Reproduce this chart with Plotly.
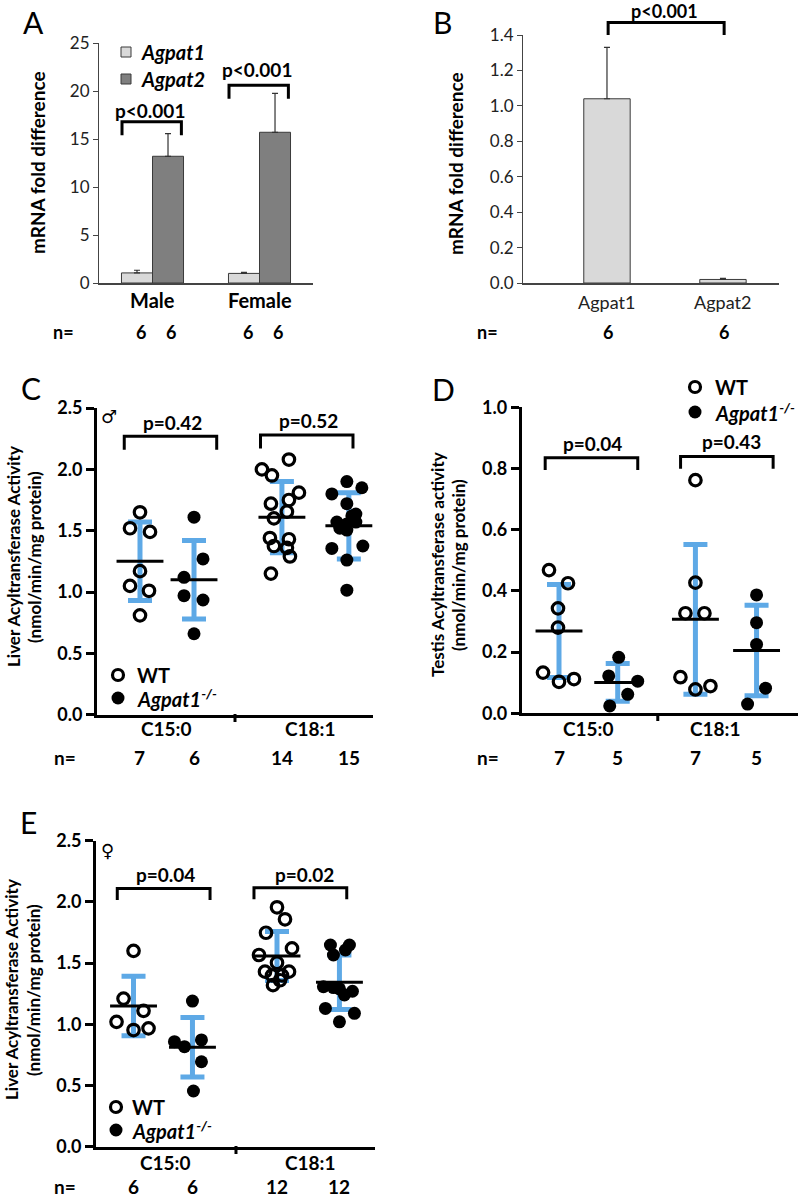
import plotly.graph_objects as go

W, H = 800, 1197
FONT = "Lato"
BLUE = "#5EA9E6"

# ---------------- Panel A data ----------------
a_sex = ["Male", "Female"]
a_agpat1 = [1.05, 1.0]
a_agpat1_err = [0.28, 0.1]
a_agpat2 = [13.2, 15.7]
a_agpat2_err = [2.35, 4.05]
a_n = [[6, 6], [6, 6]]
a_p = ["p<0.001", "p<0.001"]
a_bracket_top = [16.8, 20.6]
a_p_y = [18.0, 22.2]

# ---------------- Panel B data ----------------
b_genes = ["Agpat1", "Agpat2"]
b_values = [1.04, 0.02]
b_err = [0.29, 0.006]
b_n = [6, 6]
b_p = "p<0.001"
b_bracket_top = 1.47
b_p_y = 1.535

# ---------------- Panel C data (male liver) ----------------
c_wt15 = [1.65, 1.52, 1.49, 1.17, 1.05, 1.01, 0.81]
c_ko15 = [1.61, 1.27, 1.12, 0.97, 0.935, 0.66]
c_wt18 = [2.08, 2.0, 1.95, 1.81, 1.72, 1.75, 1.655, 1.60, 1.44, 1.43, 1.375, 1.36, 1.29, 1.15]
c_ko18 = [1.90, 1.85, 1.80, 1.72, 1.635, 1.57, 1.555, 1.57, 1.505, 1.355, 1.375, 1.26, 1.015, 1.52, 1.62]
c_means = [1.25, 1.10, 1.61, 1.54]
c_sd = [0.32, 0.32, 0.29, 0.27]
c_n = [7, 6, 14, 15]
c_p = ["p=0.42", "p=0.52"]
c_bracket_top = [2.27, 2.28]
c_p_y = [2.38, 2.40]

# ---------------- Panel D data (testis) ----------------
d_wt15 = [0.468, 0.425, 0.343, 0.28, 0.133, 0.103, 0.112]
d_ko15 = [0.183, 0.122, 0.105, 0.062, 0.024]
d_wt18 = [0.762, 0.427, 0.327, 0.327, 0.118, 0.078, 0.089]
d_ko18 = [0.387, 0.296, 0.225, 0.082, 0.03]
d_means = [0.269, 0.101, 0.307, 0.205]
d_sd = [0.152, 0.062, 0.245, 0.148]
d_n = [7, 5, 7, 5]
d_p = ["p=0.04", "p=0.43"]
d_bracket_top = [0.835, 0.839]
d_p_y = [0.882, 0.888]

# ---------------- Panel E data (female liver) ----------------
e_wt15 = [1.60, 1.21, 1.11, 1.02, 0.953, 0.967]
e_ko15 = [1.19, 0.858, 0.817, 0.872, 0.694, 0.455]
e_wt18 = [1.956, 1.858, 1.748, 1.62, 1.566, 1.503, 1.43, 1.43, 1.40, 1.40, 1.36, 1.32]
e_ko18 = [1.648, 1.648, 1.607, 1.566, 1.307, 1.30, 1.29, 1.27, 1.24, 1.13, 1.09, 1.02]
e_means = [1.15, 0.812, 1.558, 1.343]
e_sd = [0.243, 0.243, 0.20, 0.223]
e_n = [6, 6, 12, 12]
e_p = ["p=0.04", "p=0.02"]
e_bracket_top = [2.11, 2.116]
e_p_y = [2.22, 2.22]

fatty_acids = ["C15:0", "C18:1"]
genotypes = ["WT", "Agpat1<sup>-/-</sup>"]
y_title_mrna = "mRNA fold difference"
y_title_liver = ["Liver Acyltransferase Activity", "(nmol/min/mg protein)"]
y_title_testis = ["Testis Acyltransferase activity", "(nmol/min/mg protein)"]

# ---------------- layout helpers (styling / placement only) ----------------
c_jit = [[0, -10, 10, 0, -10, 9, 0],
         [0, 9, -10, -10, 9, 0],
         [7, -20, -10, 17, -11, 7, 5, -8, -12, 7, -8, 5, 8, -11],
         [-2, 13, -17, -2, 7, -12, -2, 7, -2, -17, 14, -2, -2, -9, 3]]
d_jit = [[-10, 9, -1, -1, -16, 0, 15],
         [1, -9, 20, 10, -8],
         [0, 0, -10, 9, -15, 0, 15],
         [0, 0, 0, 9, -9]]
e_jit = [[0, -10, 10, -17, 0, 15],
         [0, -18, -8, 9, 9, 1],
         [0, 8, -11, 15, -18, 0, -12, 12, 5, -5, 3, -4],
         [-9, 10, 6, -6, -16, -6, 0, 13, 5, -14, 15, 0]]


def px(xp):
    return xp / W


def py(yp):
    return 1 - yp / H


fig = go.Figure()
annotations = []
shapes = []


def ann(text, x, y, size=17, bold=True, italic=False, xref="paper", yref="paper",
        xanchor="center", yanchor="middle", angle=0, family=FONT, color="black"):
    t = text
    if italic:
        t = "<i>" + t + "</i>"
    annotations.append(dict(text=t, x=x, y=y, xref=xref, yref=yref, showarrow=False,
                            xanchor=xanchor, yanchor=yanchor, textangle=angle,
                            font=dict(family=family, size=size, color=color,
                                      weight="bold" if bold else "normal")))


def bracket(xa, ya, xl, xr, top, drop, width=3):
    fig.add_trace(go.Scatter(x=[xl, xl, xr, xr], y=[top - drop, top, top, top - drop],
                             mode="lines", line=dict(color="black", width=width),
                             xaxis=xa, yaxis=ya, cliponaxis=False, hoverinfo="skip",
                             showlegend=False))


# ================= Panel A =================
A_XDOM = (99, 313)
A_XR = (-0.5, 1.5)
A_YDOM = (283, 43)
a_idx = list(range(len(a_sex)))
fig.add_trace(go.Bar(x=a_idx, y=a_agpat1, name="Agpat1", width=0.29, offset=-0.29,
                     marker=dict(color="#d9d9d9", line=dict(color="#3a3a3a", width=1)),
                     error_y=dict(type="data", array=a_agpat1_err, arrayminus=[0, 0],
                                  symmetric=False, color="#333", thickness=1.2, width=3),
                     xaxis="x", yaxis="y"))
fig.add_trace(go.Bar(x=a_idx, y=a_agpat2, name="Agpat2", width=0.29, offset=0,
                     marker=dict(color="#7f7f7f", line=dict(color="#3a3a3a", width=1)),
                     error_y=dict(type="data", array=a_agpat2_err, arrayminus=[0, 0],
                                  symmetric=False, color="#333", thickness=1.2, width=3),
                     xaxis="x", yaxis="y"))
for i in a_idx:
    bracket("x", "y", i - 0.285, i + 0.27, a_bracket_top[i], 1.4)
    ann(a_p[i], i - 0.02, a_p_y[i], size=19, xref="x", yref="y")
    ann(a_sex[i], i, py(300), size=20, xref="x")
    ann(str(a_n[i][0]), i - 0.11, py(332), size=18, xref="x")
    ann(str(a_n[i][1]), i + 0.17, py(332), size=18, xref="x")
ann("n=", px(63), py(332), size=18)
ann(y_title_mrna, px(38), py(163), size=19, angle=-90)
ann("A", px(33), py(22), size=30, bold=False)
# legend A
for k, (col, lab, yy) in enumerate([("#d9d9d9", "Agpat1", 52), ("#7f7f7f", "Agpat2", 79)]):
    shapes.append(dict(type="rect", xref="paper", yref="paper", x0=px(121), x1=px(131),
                       y0=py(yy + 5), y1=py(yy - 5), fillcolor=col,
                       line=dict(color="#3a3a3a", width=1)))
    ann(lab, px(139), py(yy), size=20, italic=True, xanchor="left")

# ================= Panel B =================
B_XDOM = (523, 779)
B_XR = (-0.724, 1.483)
B_YDOM = (283, 35)
B_YR = (0, 1.4)


def b_px_x(v):
    return B_XDOM[0] + (v - B_XR[0]) / (B_XR[1] - B_XR[0]) * (B_XDOM[1] - B_XDOM[0])


def b_px_y(v):
    return B_YDOM[0] + (v - B_YR[0]) / (B_YR[1] - B_YR[0]) * (B_YDOM[1] - B_YDOM[0])


b_idx = list(range(len(b_genes)))
fig.add_trace(go.Bar(x=b_idx, y=b_values, width=0.4,
                     marker=dict(color="#d9d9d9", line=dict(color="#3a3a3a", width=1)),
                     error_y=dict(type="data", array=b_err, arrayminus=[0, 0],
                                  symmetric=False, color="#333", thickness=1.2, width=3),
                     xaxis="x2", yaxis="y2"))
bl, br_ = b_px_x(0.01), b_px_x(1.01)
bt, bb = b_px_y(b_bracket_top), b_px_y(b_bracket_top - 0.07)
shapes.append(dict(type="path", xref="paper", yref="paper",
                   path=f"M {px(bl)} {py(bb)} L {px(bl)} {py(bt)} L {px(br_)} {py(bt)} L {px(br_)} {py(bb)}",
                   line=dict(color="black", width=3)))
ann(b_p, px(b_px_x(0.5)), py(b_px_y(b_p_y)), size=18)
for i in b_idx:
    ann(b_genes[i], i, py(302), size=18, bold=False, xref="x2", color="#222")
    ann(str(b_n[i]), i + 0.01, py(332), size=18, xref="x2")
ann("n=", px(487), py(332), size=18)
ann(y_title_mrna, px(456), py(163), size=19, angle=-90)
ann("B", px(442), py(22), size=30, bold=False)


# ================= Scatter panels =================
def scatter_panel(xa, ya, positions, groups, jitters, means, sds, ppu):
    fig.add_trace(go.Scatter(x=positions, y=means, mode="markers",
                             marker=dict(size=1, color="rgba(0,0,0,0)"),
                             error_y=dict(type="data", array=sds, color=BLUE, thickness=5, width=12),
                             xaxis=xa, yaxis=ya, hoverinfo="skip", showlegend=False))
    for i, (vals, jit) in enumerate(zip(groups, jitters)):
        xs = [positions[i] + j / ppu for j in jit]
        if i % 2 == 0:
            mk = dict(symbol="circle-open", size=11.5, color="black", line=dict(width=3.2, color="black"))
        else:
            mk = dict(symbol="circle", size=13, color="black", line=dict(width=0))
        fig.add_trace(go.Scatter(x=xs, y=vals, mode="markers", marker=mk, xaxis=xa, yaxis=ya,
                                 showlegend=False, cliponaxis=False))
    fig.add_trace(go.Scatter(x=positions, y=means, mode="markers",
                             marker=dict(symbol="line-ew", size=33.5, color="black",
                                         line=dict(width=3, color="black")),
                             xaxis=xa, yaxis=ya, showlegend=False))


def legend_circles(cx, y_open, y_fill, tx):
    r = 5.5
    shapes.append(dict(type="circle", xref="paper", yref="paper", x0=px(cx - r), x1=px(cx + r),
                       y0=py(y_open + r), y1=py(y_open - r), line=dict(color="black", width=3.2),
                       fillcolor="rgba(0,0,0,0)"))
    r2 = 6.5
    shapes.append(dict(type="circle", xref="paper", yref="paper", x0=px(cx - r2), x1=px(cx + r2),
                       y0=py(y_fill + r2), y1=py(y_fill - r2), line=dict(color="black", width=0),
                       fillcolor="black"))
    ann(genotypes[0], px(tx), py(y_open), size=20, xanchor="left")
    ann(genotypes[1], px(tx), py(y_fill), size=20, italic=True, xanchor="left")


TICK_SIZE = 18
LBL = 19

# C
c_pos = [0.623, 1.406, 2.68, 3.65]
scatter_panel("x3", "y3", c_pos, [c_wt15, c_ko15, c_wt18, c_ko18], c_jit, c_means, c_sd, 69.0)
c_br = [1.065, 3.04]
c_ptx = [1.09, 3.07]
for i in range(2):
    bracket("x3", "y3", c_br[i] - 0.67, c_br[i] + 0.67, c_bracket_top[i], 0.11)
    ann(c_p[i], c_ptx[i], c_p_y[i], size=LBL, xref="x3", yref="y3")
for i, fa in enumerate(fatty_acids):
    ann(fa, [1.0, 3.09][i], py(728), size=LBL, xref="x3")
for i in range(4):
    ann(str(c_n[i]), c_pos[i], py(757), size=LBL, xref="x3")
ann("n=", px(65), py(757), size=LBL)
ann(y_title_liver[0], px(13), py(557), size=17, angle=-90)
ann(y_title_liver[1], px(34), py(557), size=17, angle=-90)
ann("C", px(31), py(388), size=30, bold=False)
ann("\u2642", px(109), py(416), size=18, bold=False, family="DejaVu Sans")
legend_circles(118, 675, 698, 135)
shapes.append(dict(type="line", xref="x3", yref="paper", x0=2, x1=2, y0=py(714), y1=py(722),
                   line=dict(color="black", width=3)))

# D
d_pos = [0.54, 1.39, 2.515, 3.4]
scatter_panel("x4", "y4", d_pos, [d_wt15, d_ko15, d_wt18, d_ko18], d_jit, d_means, d_sd, 69.1)
d_br = [1.01, 2.97]
d_ptx = [1.02, 3.04]
for i in range(2):
    bracket("x4", "y4", d_br[i] - 0.67, d_br[i] + 0.67, d_bracket_top[i], 0.04)
    ann(d_p[i], d_ptx[i], d_p_y[i], size=LBL, xref="x4", yref="y4")
for i, fa in enumerate(fatty_acids):
    ann(fa, [0.97, 2.8][i], py(728), size=LBL, xref="x4")
for i in range(4):
    ann(str(d_n[i]), d_pos[i], py(757), size=LBL, xref="x4")
ann("n=", px(488), py(757), size=LBL)
ann(y_title_testis[0], px(437), py(565), size=17, angle=-90)
ann(y_title_testis[1], px(458), py(565), size=17, angle=-90)
ann("D", px(443), py(389), size=30, bold=False)
legend_circles(695, 387, 412, 713)
shapes.append(dict(type="line", xref="x4", yref="paper", x0=1.97, x1=1.97, y0=py(713), y1=py(721),
                   line=dict(color="black", width=3)))

# E
e_pos = [0.538, 1.383, 2.595, 3.49]
scatter_panel("x5", "y5", e_pos, [e_wt15, e_ko15, e_wt18, e_ko18], e_jit, e_means, e_sd, 69.75)
e_br = [0.97, 2.93]
e_ptx = [1.0, 2.995]
for i in range(2):
    bracket("x5", "y5", e_br[i] - 0.665, e_br[i] + 0.665, e_bracket_top[i], 0.095)
    ann(e_p[i], e_ptx[i], e_p_y[i], size=LBL, xref="x5", yref="y5")
for i, fa in enumerate(fatty_acids):
    ann(fa, [1.0, 3.07][i], py(1162), size=LBL, xref="x5")
for i in range(4):
    ann(str(e_n[i]), e_pos[i], py(1186), size=LBL, xref="x5")
ann("n=", px(65), py(1186), size=LBL)
ann(y_title_liver[0], px(11), py(990), size=17, angle=-90)
ann(y_title_liver[1], px(33), py(990), size=17, angle=-90)
ann("E", px(29), py(822), size=30, bold=False)
ann("\u2640", px(107), py(850), size=18, bold=False, family="DejaVu Sans")
legend_circles(116, 1107, 1130, 130)
shapes.append(dict(type="line", xref="x5", yref="paper", x0=2.007, x1=2.007, y0=py(1146), y1=py(1154),
                   line=dict(color="black", width=3)))

# ================= Axes =================
thin_y = dict(showgrid=False, zeroline=False, showline=True, linecolor="#444", linewidth=1,
              ticks="outside", ticklen=5, tickcolor="#444",
              tickfont=dict(family=FONT, size=17, color="#222"))
thick_y = dict(showgrid=False, zeroline=False, showline=True, linecolor="black", linewidth=3,
               ticks="outside", ticklen=8, tickwidth=3, tickcolor="black", tickformat=".1f",
               tickfont=dict(family=FONT, size=TICK_SIZE, color="black", weight="bold"))
thick_x = dict(showgrid=False, zeroline=False, showline=True, linecolor="black", linewidth=3,
               ticks="", showticklabels=False, range=[0, 4])
thin_x = dict(showgrid=False, zeroline=False, showline=True, linecolor="#444", linewidth=1.5,
              ticks="", showticklabels=False)

fig.update_layout(
    width=W, height=H, margin=dict(l=0, r=0, t=0, b=0, autoexpand=False),
    plot_bgcolor="white", paper_bgcolor="white", showlegend=False, barmode="overlay",
    font=dict(family=FONT, color="black"),
    xaxis=dict(domain=[px(A_XDOM[0]), px(A_XDOM[1])], anchor="y", range=list(A_XR), **thin_x),
    yaxis=dict(domain=[py(A_YDOM[0]), py(A_YDOM[1])], anchor="x", range=[0, 25], dtick=5, **thin_y),
    xaxis2=dict(domain=[px(B_XDOM[0]), px(B_XDOM[1])], anchor="y2", range=list(B_XR), **thin_x),
    yaxis2=dict(domain=[py(B_YDOM[0]), py(B_YDOM[1])], anchor="x2", range=list(B_YR), dtick=0.2,
                tickformat=".1f", **thin_y),
    xaxis3=dict(domain=[px(97), px(373)], anchor="y3", **thick_x),
    yaxis3=dict(domain=[py(714.7), py(408)], anchor="x3", range=[0, 2.5], dtick=0.5, **thick_y),
    xaxis4=dict(domain=[px(521.7), px(798)], anchor="y4", **thick_x),
    yaxis4=dict(domain=[py(713.3), py(407.3)], anchor="x4", range=[0, 1.0], dtick=0.2, **thick_y),
    xaxis5=dict(domain=[px(96), px(375)], anchor="y5", **thick_x),
    yaxis5=dict(domain=[py(1146.7), py(840.7)], anchor="x5", range=[0, 2.5], dtick=0.5, **thick_y),
    annotations=annotations,
    shapes=shapes,
)

fig.write_html("out.html", config={"displayModeBar": False},
               post_script="document.body.style.margin='0';document.body.style.overflow='hidden';")
